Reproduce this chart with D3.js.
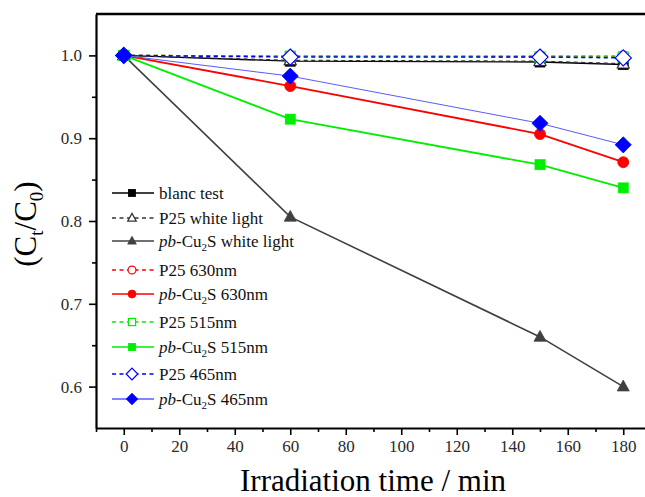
<!DOCTYPE html>
<html>
<head>
<meta charset="utf-8">
<script src="https://cdn.jsdelivr.net/npm/d3@7"></script>
<style>
  body { margin: 0; background: #fff; }
  svg { display: block; }
  svg text { font-family: "Liberation Serif", "DejaVu Serif", serif !important; }
</style>
</head>
<body>
<svg id="chart" width="645" height="497"></svg>
<script>
// irradiation times (min)
var times = [0, 60, 150, 180];

// C_t / C_0 per series
var blanc      = [1.0, 0.993, 0.992, 0.989];
var p25White   = [1.0, 0.994, 0.993, 0.990];
var cuWhite    = [1.0, 0.805, 0.660, 0.600];
var p25_630    = [1.0, 0.999, 0.999, 0.999];
var cu_630     = [1.0, 0.963, 0.905, 0.871];
var p25_515    = [1.0, 0.999, 0.998, 0.998];
var cu_515     = [1.0, 0.923, 0.868, 0.840];
var p25_465    = [1.0, 0.998, 0.998, 0.997];
var cu_465     = [1.0, 0.975, 0.918, 0.892];

var xMajor = [0, 20, 40, 60, 80, 100, 120, 140, 160, 180];
var xMinor = [-10, 10, 30, 50, 70, 90, 110, 130, 150, 170];
var yMajor = [0.6, 0.7, 0.8, 0.9, 1.0];
var yMinor = [0.65, 0.75, 0.85, 0.95];

var series = [
  {name: "blanc test",        pre: "", values: blanc,    color: "#000",    dash: null,  width: 1.3, shape: "square",   fill: true},
  {name: "P25 white light",   pre: "", values: p25White, color: "#333",    dash: "4,3.5", width: 1.3, shape: "triangle", fill: false},
  {name: " white light",      pre: "pb", values: cuWhite,  color: "#404040", dash: null,  width: 1.6, shape: "triangle", fill: true},
  {name: "P25 630nm",         pre: "", values: p25_630,  color: "#ff0000", dash: "4,3.5", width: 1.5, shape: "circle",   fill: false},
  {name: " 630nm",            pre: "pb", values: cu_630,   color: "#ff0000", dash: null,  width: 1.8, shape: "circle",   fill: true},
  {name: "P25 515nm",         pre: "", values: p25_515,  color: "#00ee00", dash: "4,3.5", width: 1.5, shape: "square",   fill: false},
  {name: " 515nm",            pre: "pb", values: cu_515,   color: "#00ee00", dash: null,  width: 1.8, shape: "square",   fill: true},
  {name: "P25 465nm",         pre: "", values: p25_465,  color: "#0000ff", dash: "4,3.5", width: 1.5, shape: "diamond",  fill: false},
  {name: " 465nm",            pre: "pb", values: cu_465,   color: "#0000ff", dash: null,  width: 1.0, shape: "diamond",  fill: true, line: "#5a5aff"}
];

var svg = d3.select("#chart");
var margin = {top: 14, left: 96, bottom: 69};
var width = 645, height = 497;

var x = d3.scaleLinear().domain([-10, 190]).range([margin.left, 651]);
var y = d3.scaleLinear().domain([0.55, 1.05]).range([height - margin.bottom, margin.top]);

// frame: top edge
svg.append("line")
  .attr("x1", margin.left).attr("x2", 651)
  .attr("y1", y(1.05)).attr("y2", y(1.05))
  .attr("stroke", "#000").attr("stroke-width", 2.5);

// minor ticks first, then major axis on top
var xMinorAxis = svg.append("g")
  .attr("transform", `translate(0,${y(0.55)})`)
  .call(d3.axisBottom(x).tickValues(xMinor).tickSize(4).tickFormat(""));
var xAxis = svg.append("g")
  .attr("transform", `translate(0,${y(0.55)})`)
  .call(d3.axisBottom(x).tickValues(xMajor).tickSize(7).tickPadding(5).tickSizeOuter(0));

var yMinorAxis = svg.append("g")
  .attr("transform", `translate(${x(-10)},0)`)
  .call(d3.axisLeft(y).tickValues(yMinor).tickSize(4).tickFormat(""));
var yAxis = svg.append("g")
  .attr("transform", `translate(${x(-10)},0)`)
  .call(d3.axisLeft(y).tickValues(yMajor).tickSize(7).tickPadding(7).tickSizeOuter(0).tickFormat(d3.format(".1f")));

svg.selectAll(".domain").attr("stroke", "#000").attr("stroke-width", 2.2);
svg.selectAll(".tick line").attr("stroke", "#000").attr("stroke-width", 1.6);
svg.selectAll(".tick text").style("font-size", "17px").style("fill", "#2a2a2a");
xMinorAxis.select(".domain").remove();
yMinorAxis.select(".domain").remove();

// axis titles
svg.append("text")
  .attr("x", 373).attr("y", 491)
  .attr("text-anchor", "middle")
  .style("font-size", "31px")
  .style("fill", "#000")
  .text("Irradiation time / min");

var ylab = svg.append("text")
  .attr("transform", "translate(36,224) rotate(-90)")
  .attr("text-anchor", "middle")
  .style("font-size", "31px")
  .style("fill", "#000");
ylab.append("tspan").text("(C");
ylab.append("tspan").style("font-size", "19px").attr("dy", 7).text("t");
ylab.append("tspan").attr("dy", -7).text("/C");
ylab.append("tspan").style("font-size", "19px").attr("dy", 7).text("0");
ylab.append("tspan").attr("dy", -7).text(")");

// marker helper
function marker(g, shape, cx, cy, s, color, fill) {
  var m;
  if (shape === "square") {
    m = g.append("rect").attr("x", cx - s / 2).attr("y", cy - s / 2).attr("width", s).attr("height", s);
  } else if (shape === "circle") {
    m = g.append("circle").attr("cx", cx).attr("cy", cy).attr("r", s / 2);
  } else if (shape === "triangle") {
    var h = s * 0.9;
    m = g.append("path").attr("d", `M${cx},${cy - h * 0.6}L${cx + s / 2},${cy + h * 0.4}L${cx - s / 2},${cy + h * 0.4}Z`);
  } else {
    var r = s * 0.62;
    m = g.append("path").attr("d", `M${cx},${cy - r}L${cx + r},${cy}L${cx},${cy + r}L${cx - r},${cy}Z`);
  }
  m.attr("fill", fill ? color : "#fff")
   .attr("stroke", color)
   .attr("stroke-width", fill ? 0.8 : 1.2);
  return m;
}

var line = d3.line().x(d => x(d.t)).y(d => y(d.v));
var sizes = {square: 10, circle: 11, triangle: 12, diamond: 13};

series.forEach(function(s) {
  var pts = times.map((t, i) => ({t: t, v: s.values[i]}));
  var g = svg.append("g");
  g.append("path")
    .datum(pts)
    .attr("d", line)
    .attr("fill", "none")
    .attr("stroke", s.line || s.color)
    .attr("stroke-width", s.width)
    .attr("stroke-dasharray", s.dash);
  pts.forEach(function(p) {
    marker(g, s.shape, x(p.t), y(p.v), sizes[s.shape], s.color, s.fill);
  });
});

// legend
var legendY = [193, 218, 241, 270, 294, 322, 347, 374, 399];
var legend = svg.append("g");
series.forEach(function(s, i) {
  var ly = legendY[i];
  legend.append("line")
    .attr("x1", 112).attr("x2", 154)
    .attr("y1", ly).attr("y2", ly)
    .attr("stroke", s.line || s.color)
    .attr("stroke-width", s.dash ? 1.4 : 1.5)
    .attr("stroke-dasharray", s.dash);
  marker(legend, s.shape, 132, ly, sizes[s.shape] * 0.72, s.color, s.fill);
  var t = legend.append("text")
    .attr("x", 159).attr("y", ly + 5.5)
    .style("font-size", "17px")
    .style("fill", "#111");
  if (s.pre) {
    t.append("tspan").style("font-style", "italic").text("pb");
    t.append("tspan").text("-Cu");
    t.append("tspan").style("font-size", "11px").attr("dy", 4).text("2");
    t.append("tspan").attr("dy", -4).text("S" + s.name);
  } else {
    t.text(s.name);
  }
});
</script>
</body>
</html>
